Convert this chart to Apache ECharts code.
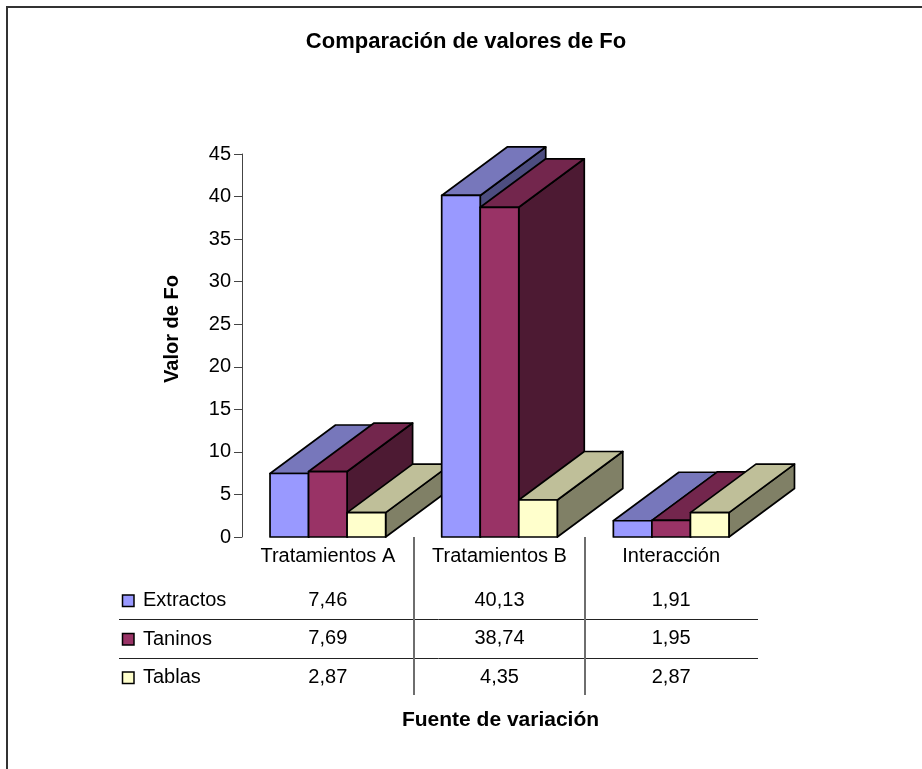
<!DOCTYPE html>
<html>
<head>
<meta charset="utf-8">
<script src="https://cdn.jsdelivr.net/npm/echarts@6/dist/echarts.min.js"></script>
<style>
  html, body { margin: 0; padding: 0; background: #fff; }
  #chart { width: 922px; height: 769px; }
</style>
</head>
<body>
<div id="chart"></div>
<script>
// Fuentes de variación (categorías) y valores de Fo por factor
const categories = ['Tratamientos A', 'Tratamientos B', 'Interacción'];
const seriesNames = ['Extractos', 'Taninos', 'Tablas'];
const extractos = [7.46, 40.13, 1.91];
const taninos = [7.69, 38.74, 1.95];
const tablas = [2.87, 4.35, 2.87];
const seriesValues = [extractos, taninos, tablas];

const FONT = '"Liberation Sans", Arial, Helvetica, sans-serif';

// Colores de cada cara del prisma: frontal, superior y lateral
const faces = [
  { front: '#9999FF', top: '#7777BB', side: '#4D4D80' },
  { front: '#993366', top: '#73264D', side: '#4D1A33' },
  { front: '#FFFFCC', top: '#BFBF99', side: '#808066' }
];

// Proyección oblicua de la profundidad de las barras (px)
const DEPTH_X = 65.5;
const DEPTH_Y = -48.5;
// Tabla de datos bajo el eje
const ROW0 = 63;
const ROW_H = 38.5;
const TABLE_H = 158;

const fmt = v => v.toFixed(2).replace('.', ',');

function renderBar(sIdx) {
  return function (params, api) {
    const cat = api.value(0);
    const v = api.value(1);
    const base = api.coord([cat, 0]);
    const top = api.coord([cat, v]);
    const band = api.size([1, 0])[0];
    const barW = band * 0.2245;
    const x0 = base[0] - 1.5 * barW + sIdx * barW;
    const x1 = x0 + barW;
    const y0 = base[1];
    const yt = top[1];
    const c = faces[sIdx];
    const zb = cat * 10 + sIdx * 3;
    const edge = { stroke: '#000', lineWidth: 1.7, lineJoin: 'round' };
    const children = [
      {
        type: 'polygon', z2: zb,
        shape: { points: [[x1, yt], [x1 + DEPTH_X, yt + DEPTH_Y], [x1 + DEPTH_X, y0 + DEPTH_Y], [x1, y0]] },
        style: Object.assign({ fill: c.side }, edge)
      },
      {
        type: 'polygon', z2: zb + 1,
        shape: { points: [[x0, yt], [x1, yt], [x1 + DEPTH_X, yt + DEPTH_Y], [x0 + DEPTH_X, yt + DEPTH_Y]] },
        style: Object.assign({ fill: c.top }, edge)
      },
      {
        type: 'rect', z2: zb + 2,
        shape: { x: x0, y: yt, width: barW, height: y0 - yt },
        style: Object.assign({ fill: c.front }, edge)
      },
      {
        type: 'text', z2: 200,
        style: {
          text: fmt(v), x: base[0], y: y0 + ROW0 + sIdx * ROW_H,
          fill: '#000', fontSize: 20, fontFamily: FONT,
          textAlign: 'center', textVerticalAlign: 'middle',
          align: 'center', verticalAlign: 'middle'
        }
      }
    ];
    if (sIdx === 0 && cat > 0) {
      const xs = Math.round(base[0] - band / 2);
      children.push({
        type: 'line', z2: 200,
        shape: { x1: xs, y1: y0, x2: xs, y2: y0 + TABLE_H },
        style: { stroke: '#6e6e6e', lineWidth: 2 }
      });
    }
    return { type: 'group', children: children };
  };
}

const chart = echarts.init(document.getElementById('chart'), null, { renderer: 'canvas' });

const rowY = [600.5, 639, 677.5];
const legendGraphics = [];
seriesNames.forEach((name, i) => {
  legendGraphics.push({
    type: 'rect', shape: { x: 122.5, y: rowY[i] - 5.5, width: 11.5, height: 11.5 },
    style: { fill: faces[i].front, stroke: '#000', lineWidth: 1.5 }
  });
  legendGraphics.push({
    type: 'text', x: 143, y: rowY[i],
    style: { text: name, fill: '#000', fontSize: 20, fontFamily: FONT, verticalAlign: 'middle', align: 'left' }
  });
});

chart.setOption({
  backgroundColor: '#fff',
  animation: false,
  grid: { left: 242, top: 154, width: 515, height: 383, outerBoundsMode: 'none' },
  xAxis: {
    type: 'category',
    data: categories,
    axisLine: { show: false },
    axisTick: { show: false },
    splitLine: { show: false },
    axisLabel: { color: '#000', fontSize: 20, fontFamily: FONT, margin: 9, interval: 0 }
  },
  yAxis: {
    type: 'value',
    min: 0, max: 45, interval: 5,
    axisLine: { show: true, lineStyle: { color: '#444', width: 1 } },
    axisTick: { show: true, length: 8, lineStyle: { color: '#444', width: 1 } },
    splitLine: { show: false },
    axisLabel: { color: '#000', fontSize: 20, fontFamily: FONT, margin: 11 }
  },
  series: seriesValues.map((vals, s) => ({
    type: 'custom',
    name: seriesNames[s],
    renderItem: renderBar(s),
    encode: { x: 0, y: 1 },
    data: vals.map((v, i) => [i, v])
  })),
  graphic: [
    {
      type: 'rect', silent: true,
      shape: { x: 7, y: 7, width: 1000, height: 1000 },
      style: { fill: 'none', stroke: '#333', lineWidth: 2 }
    },
    {
      type: 'text', x: 466, y: 42,
      style: { text: 'Comparación de valores de Fo', fill: '#000', fontSize: 22, fontWeight: 'bold', fontFamily: FONT, align: 'center', verticalAlign: 'middle' }
    },
    {
      type: 'text', x: 172, y: 329, rotation: Math.PI / 2,
      style: { text: 'Valor de Fo', fill: '#000', fontSize: 20, fontWeight: 'bold', fontFamily: FONT, align: 'center', verticalAlign: 'middle' }
    },
    {
      type: 'text', x: 500.5, y: 720,
      style: { text: 'Fuente de variación', fill: '#000', fontSize: 21, fontWeight: 'bold', fontFamily: FONT, align: 'center', verticalAlign: 'middle' }
    },
    {
      type: 'line', shape: { x1: 119, y1: 619.5, x2: 758, y2: 619.5 },
      style: { stroke: '#222', lineWidth: 1 }
    },
    {
      type: 'line', shape: { x1: 119, y1: 658.5, x2: 758, y2: 658.5 },
      style: { stroke: '#222', lineWidth: 1 }
    }
  ].concat(legendGraphics)
});
</script>
</body>
</html>
